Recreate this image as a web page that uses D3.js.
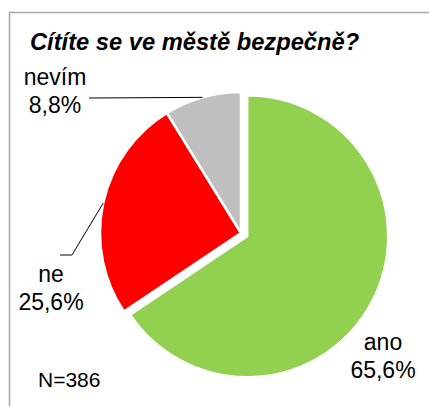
<!DOCTYPE html>
<html>
<head>
<meta charset="utf-8">
<script src="https://cdn.jsdelivr.net/npm/d3@7"></script>
<style>
  html, body { margin: 0; padding: 0; background: #fff; }
  svg { display: block; font-family: "Liberation Sans", Arial, sans-serif; }
</style>
</head>
<body>
<script>
// chart data
const categories = ['ano', 'ne', 'nevím'];
const values = [65.6, 25.6, 8.8];
const colors = ['#92d050', '#ff0000', '#bfbfbf'];
const title = 'Cítíte se ve městě bezpečně?';
const note = 'N=386';

const width = 429, height = 406;
const cx = 241, cy = 233, r = 141;
const explode = [7, 0, 0];

const fmt = v => d3.format('.1f')(v).replace('.', ',') + '%';

const svg = d3.select('body').append('svg')
  .attr('width', width)
  .attr('height', height);

// frame (only left + top edges visible in crop)
svg.append('path')
  .attr('d', `M9.5,${height}V12.5H${width}`)
  .attr('fill', 'none')
  .attr('stroke', '#a6a6a6')
  .attr('stroke-width', 1.5);

svg.append('text')
  .attr('x', 30)
  .attr('y', 50)
  .attr('font-size', 23.7)
  .attr('font-weight', 'bold')
  .attr('font-style', 'italic')
  .text(title);

const pie = d3.pie().sort(null).value(d => d)(values);
const arc = d3.arc().innerRadius(0).outerRadius(r);

const g = svg.append('g').attr('transform', `translate(${cx},${cy})`);

g.selectAll('path')
  .data(pie)
  .join('path')
    .attr('transform', (d, i) => {
      const a = (d.startAngle + d.endAngle) / 2;
      return `translate(${Math.sin(a) * explode[i]},${-Math.cos(a) * explode[i]})`;
    })
    .attr('d', arc)
    .attr('fill', (d, i) => colors[i])
    .attr('stroke', '#fff')
    .attr('stroke-width', 2.5)
    .attr('stroke-linejoin', 'round');

// labels: layout positions (centre x / baseline) for each slice
const labelPos = [
  { x: 383, y: 350, anchor: 'middle' },
  { x: 51, y: 282, anchor: 'middle', leader: [[60, 255], [72, 255]] },
  { x: 55, y: 85, anchor: 'middle', leader: [[89, 98]] }
];

pie.forEach((d, i) => {
  const p = labelPos[i];
  if (p.leader) {
    const a = (d.startAngle + d.endAngle) / 2;
    const end = [cx + Math.sin(a) * r, cy - Math.cos(a) * r];
    svg.append('path')
      .attr('d', d3.line()([...p.leader, end]))
      .attr('fill', 'none')
      .attr('stroke', '#000')
      .attr('stroke-width', 1);
  }
  const t = svg.append('text')
    .attr('text-anchor', p.anchor)
    .attr('font-size', 23)
    .attr('fill', '#000');
  t.append('tspan').attr('x', p.x).attr('y', p.y).text(categories[i]);
  t.append('tspan').attr('x', p.x).attr('y', p.y + 28).text(fmt(values[i]));
});

svg.append('text')
  .attr('x', 38)
  .attr('y', 387)
  .attr('font-size', 21)
  .text(note);
</script>
</body>
</html>
